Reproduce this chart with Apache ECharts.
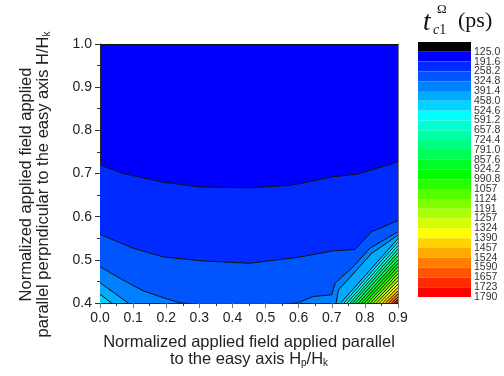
<!DOCTYPE html>
<html>
<head>
<meta charset="utf-8">
<script src="https://cdn.jsdelivr.net/npm/echarts@6/dist/echarts.min.js"></script>
<style>
  html, body { margin: 0; padding: 0; background: #fff; }
  #chart { width: 504px; height: 376px; }
</style>
</head>
<body>
<div id="chart"></div>
<script>
// contour levels of t_c1 (ps), as printed next to the colour bar
const levels = ['125.0', '191.6', '258.2', '324.8', '391.4', '458.0', '524.6', '591.2',
  '657.8', '724.4', '791.0', '857.6', '924.2', '990.8', '1057', '1124', '1191', '1257',
  '1324', '1390', '1457', '1524', '1590', '1657', '1723', '1790'];

// one colour per band, top (below 125.0) to bottom (1723-1790)
const bandColors = ['#000000', '#0000ff', '#002aff', '#0055ff', '#0080ff', '#00aaff',
  '#00d4ff', '#00ffff', '#00ffd4', '#00ffaa', '#00ff80', '#00ff55', '#00ff2a', '#00ff00',
  '#2aff00', '#55ff00', '#80ff00', '#aaff00', '#d4ff00', '#ffff00', '#ffd400', '#ffaa00',
  '#ff8000', '#ff5500', '#ff2a00', '#ff0000'];

// contour lines as [Hp/Hk, H/Hk] points
const line191 = [[0, 0.72], [0.07, 0.70], [0.19, 0.68], [0.30, 0.669], [0.46, 0.667],
  [0.58, 0.673], [0.70, 0.692], [0.78, 0.699], [0.9, 0.727]];
const line258 = [[0, 0.559], [0.10, 0.527], [0.19, 0.507], [0.30, 0.498], [0.45, 0.492],
  [0.60, 0.506], [0.705, 0.521], [0.77, 0.524], [0.82, 0.565], [0.9, 0.591]];
const line325 = [[0, 0.484], [0.065, 0.455], [0.131, 0.428], [0.20, 0.41], [0.245, 0.40],
  [0.42, 0.39], [0.595, 0.40], [0.644, 0.415], [0.70, 0.419], [0.71, 0.446],
  [0.765, 0.484], [0.815, 0.527], [0.9, 0.565]];
const line391Left = [[0, 0.447], [0.085, 0.40]];
const line391Right = [[0.713, 0.40], [0.72, 0.43], [0.77, 0.472], [0.82, 0.515], [0.9, 0.557]];
const line458Left = [[0, 0.42], [0.035, 0.40]];

// remaining lines in the lower right corner (458.0 ... 1723): where each meets
// the bottom edge and the right edge
const cornerBottomX = [0.727, 0.737, 0.746, 0.755, 0.763, 0.772, 0.781, 0.790, 0.799,
  0.808, 0.817, 0.826, 0.835, 0.844, 0.853, 0.862, 0.871, 0.880, 0.888, 0.895];
const cornerRightY = [0.549, 0.541, 0.533, 0.525, 0.517, 0.509, 0.500, 0.492, 0.484,
  0.476, 0.468, 0.460, 0.452, 0.444, 0.436, 0.428, 0.421, 0.414, 0.408, 0.403];

const font = "'Liberation Sans', Arial, sans-serif";
const serif = "'Liberation Serif', 'Times New Roman', serif";

// [level index, points]
const pieces = [
  [1, line191],
  [2, line258],
  [3, line325],
  [4, line391Left],
  [4, line391Right],
  [5, line458Left]
];
cornerBottomX.forEach((xb, i) => {
  pieces.push([5 + i, [[xb, 0.4], [0.9, cornerRightY[i]]]]);
});

const contourSeries = pieces.map(([lvl, pts]) => ({
  type: 'line',
  xAxisIndex: 0,
  yAxisIndex: 0,
  data: pts,
  symbol: 'none',
  silent: true,
  clip: true,
  lineStyle: { color: '#111', width: 1 },
  areaStyle: { color: bandColors[lvl + 1], opacity: 1, origin: 'start' }
}));

// colour bar label: boundary k sits below band k-1
function barLabel(v) {
  const k = Math.round(v);
  if (Math.abs(v - k) > 1e-6 || k < 1 || k > levels.length) return '';
  return levels[k - 1];
}

const chart = echarts.init(document.getElementById('chart'));

const subRich = {
  n: { fontSize: 16.5, lineHeight: 17, fontFamily: font, color: '#222' },
  s: { fontSize: 10, lineHeight: 5, verticalAlign: 'bottom', fontFamily: font, color: '#222' }
};

chart.setOption({
  animation: false,
  textStyle: { fontFamily: font },
  grid: [
    { left: 100, top: 44, width: 298, height: 259, show: true,
      backgroundColor: bandColors[1], borderWidth: 0 },
    { left: 418, top: 42, width: 53, height: 255 }
  ],
  graphic: [
    { type: 'text', x: 423, y: 9, style: { text: 't', fontSize: 27, fontStyle: 'italic', fontFamily: serif, fill: '#111' } },
    { type: 'text', x: 437, y: 3, style: { text: 'Ω', fontSize: 13, fontFamily: serif, fill: '#111' } },
    { type: 'text', x: 433, y: 23, style: { text: '{c|c}{o|1}', fontSize: 14, fontFamily: serif, fill: '#111',
      rich: { c: { fontSize: 14, fontStyle: 'italic', fontFamily: serif }, o: { fontSize: 14, fontFamily: serif } } } },
    { type: 'text', x: 458, y: 10, style: { text: '(ps)', fontSize: 22, fontFamily: serif, fill: '#111' } }
  ],
  xAxis: [
    {
      type: 'value', gridIndex: 0, min: 0, max: 0.9, interval: 0.1,
      name: '{n|Normalized applied field applied parallel}\n{n|to the easy axis H}{s|p}{n|/H}{s|k}',
      nameLocation: 'middle', nameGap: 31,
      nameTextStyle: { fontSize: 16.5, color: '#222', rich: subRich },
      axisLine: { show: true, onZero: false, lineStyle: { color: '#222', width: 1 } },
      axisTick: { show: true, inside: false, length: 5, lineStyle: { color: '#777' } },
      minorTick: { show: true, splitNumber: 2, length: 3, lineStyle: { color: '#333' } },
      axisLabel: { fontSize: 14, color: '#222', margin: 8, formatter: v => v.toFixed(1) },
      splitLine: { show: false }
    },
    {
      type: 'value', gridIndex: 0, min: 0, max: 0.9, position: 'top',
      axisLine: { show: true, onZero: false, lineStyle: { color: '#111' } },
      axisTick: { show: false }, axisLabel: { show: false }, splitLine: { show: false }
    },
    {
      type: 'value', gridIndex: 1, min: 0, max: 1, show: false
    }
  ],
  yAxis: [
    {
      type: 'value', gridIndex: 0, min: 0.4, max: 1.0, interval: 0.1,
      name: '{n|Normalized applied field applied}\n{n|parallel perpndicular to the easy axis H/H}{s|k}',
      nameLocation: 'middle', nameGap: 48,
      nameTextStyle: { fontSize: 16.5, color: '#222', rich: subRich, padding: [0, 22, 0, 0] },
      axisLine: { show: true, onZero: false, lineStyle: { color: '#222', width: 1 } },
      axisTick: { show: true, inside: false, length: 5, lineStyle: { color: '#333' } },
      minorTick: { show: true, splitNumber: 2, length: 3, lineStyle: { color: '#333' } },
      axisLabel: { fontSize: 14, color: '#222', margin: 8, formatter: v => v.toFixed(1) },
      splitLine: { show: false }
    },
    {
      type: 'value', gridIndex: 0, min: 0.4, max: 1.0, position: 'right',
      axisLine: { show: true, onZero: false, lineStyle: { color: '#777' } },
      axisTick: { show: false }, axisLabel: { show: false }, splitLine: { show: false }
    },
    {
      type: 'category', gridIndex: 1, inverse: true, data: bandColors.map((c, i) => i),
      show: false
    },
    {
      type: 'value', gridIndex: 1, inverse: true, min: 0, max: 26.001, interval: 1,
      position: 'right',
      axisLine: { show: false }, axisTick: { show: false }, splitLine: { show: false },
      axisLabel: {
        fontSize: 10.5, color: '#333', margin: 3, hideOverlap: false,
        formatter: barLabel
      }
    }
  ],
  series: [
    ...contourSeries,
    {
      type: 'bar',
      xAxisIndex: 2,
      yAxisIndex: 2,
      barWidth: '100%',
      silent: true,
      data: bandColors.map(c => ({ value: 1, itemStyle: { color: c } }))
    }
  ]
});
</script>
</body>
</html>
